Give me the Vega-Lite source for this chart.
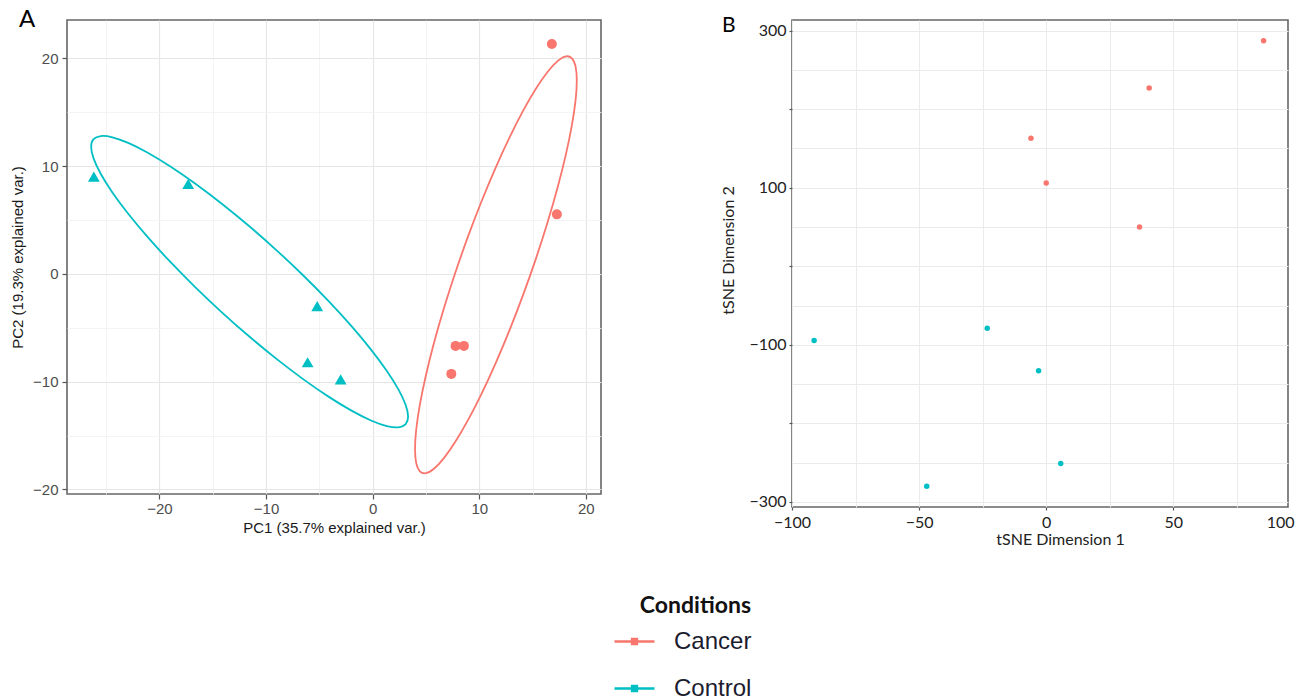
{
  "$schema": "https://vega.github.io/schema/vega-lite/v6.json",
  "background": "white",
  "padding": {"left": 9, "top": 7, "right": 5, "bottom": 5},
  "config": {
    "view": {"stroke": "#666666", "strokeWidth": 1.6},
    "legend": {"padding": 0}
  },
  "datasets": {
    "pca": [
      {"PC1": -26.15, "PC2": 9.03, "Conditions": "Control"},
      {"PC1": -17.3, "PC2": 8.35, "Conditions": "Control"},
      {"PC1": -5.2, "PC2": -3.0, "Conditions": "Control"},
      {"PC1": -6.1, "PC2": -8.2, "Conditions": "Control"},
      {"PC1": -3.0, "PC2": -9.8, "Conditions": "Control"},
      {"PC1": 16.81, "PC2": 21.34, "Conditions": "Cancer"},
      {"PC1": 17.28, "PC2": 5.53, "Conditions": "Cancer"},
      {"PC1": 7.78, "PC2": -6.68, "Conditions": "Cancer"},
      {"PC1": 8.56, "PC2": -6.68, "Conditions": "Cancer"},
      {"PC1": 7.38, "PC2": -9.28, "Conditions": "Cancer"}
    ],
    "ellipse": [
      {"t": 0, "PC1": 3.325, "PC2": -13.244, "Conditions": "Control"},
      {"t": 10, "PC1": 3.099, "PC2": -12.165, "Conditions": "Control"},
      {"t": 20, "PC1": 2.429, "PC2": -10.739, "Conditions": "Control"},
      {"t": 30, "PC1": 1.333, "PC2": -9.007, "Conditions": "Control"},
      {"t": 40, "PC1": -0.153, "PC2": -7.023, "Conditions": "Control"},
      {"t": 50, "PC1": -1.985, "PC2": -4.85, "Conditions": "Control"},
      {"t": 60, "PC1": -4.107, "PC2": -2.55, "Conditions": "Control"},
      {"t": 70, "PC1": -6.456, "PC2": -0.194, "Conditions": "Control"},
      {"t": 80, "PC1": -8.959, "PC2": 2.146, "Conditions": "Control"},
      {"t": 90, "PC1": -11.54, "PC2": 4.398, "Conditions": "Control"},
      {"t": 100, "PC1": -14.121, "PC2": 6.494, "Conditions": "Control"},
      {"t": 110, "PC1": -16.624, "PC2": 8.372, "Conditions": "Control"},
      {"t": 120, "PC1": -18.973, "PC2": 9.974, "Conditions": "Control"},
      {"t": 130, "PC1": -21.095, "PC2": 11.25, "Conditions": "Control"},
      {"t": 140, "PC1": -22.927, "PC2": 12.163, "Conditions": "Control"},
      {"t": 150, "PC1": -24.413, "PC2": 12.685, "Conditions": "Control"},
      {"t": 160, "PC1": -25.509, "PC2": 12.799, "Conditions": "Control"},
      {"t": 170, "PC1": -26.179, "PC2": 12.503, "Conditions": "Control"},
      {"t": 180, "PC1": -26.405, "PC2": 11.804, "Conditions": "Control"},
      {"t": 190, "PC1": -26.179, "PC2": 10.725, "Conditions": "Control"},
      {"t": 200, "PC1": -25.509, "PC2": 9.299, "Conditions": "Control"},
      {"t": 210, "PC1": -24.413, "PC2": 7.567, "Conditions": "Control"},
      {"t": 220, "PC1": -22.927, "PC2": 5.583, "Conditions": "Control"},
      {"t": 230, "PC1": -21.095, "PC2": 3.41, "Conditions": "Control"},
      {"t": 240, "PC1": -18.973, "PC2": 1.11, "Conditions": "Control"},
      {"t": 250, "PC1": -16.624, "PC2": -1.246, "Conditions": "Control"},
      {"t": 260, "PC1": -14.121, "PC2": -3.586, "Conditions": "Control"},
      {"t": 270, "PC1": -11.54, "PC2": -5.838, "Conditions": "Control"},
      {"t": 280, "PC1": -8.959, "PC2": -7.934, "Conditions": "Control"},
      {"t": 290, "PC1": -6.456, "PC2": -9.812, "Conditions": "Control"},
      {"t": 300, "PC1": -4.107, "PC2": -11.414, "Conditions": "Control"},
      {"t": 310, "PC1": -1.985, "PC2": -12.69, "Conditions": "Control"},
      {"t": 320, "PC1": -0.153, "PC2": -13.603, "Conditions": "Control"},
      {"t": 330, "PC1": 1.333, "PC2": -14.125, "Conditions": "Control"},
      {"t": 340, "PC1": 2.429, "PC2": -14.239, "Conditions": "Control"},
      {"t": 350, "PC1": 3.099, "PC2": -13.943, "Conditions": "Control"},
      {"t": 0, "PC1": 19.149, "PC2": 17.945, "Conditions": "Cancer"},
      {"t": 10, "PC1": 19.034, "PC2": 19.261, "Conditions": "Cancer"},
      {"t": 20, "PC1": 18.691, "PC2": 20.018, "Conditions": "Cancer"},
      {"t": 30, "PC1": 18.132, "PC2": 20.192, "Conditions": "Cancer"},
      {"t": 40, "PC1": 17.374, "PC2": 19.778, "Conditions": "Cancer"},
      {"t": 50, "PC1": 16.439, "PC2": 18.789, "Conditions": "Cancer"},
      {"t": 60, "PC1": 15.356, "PC2": 17.256, "Conditions": "Cancer"},
      {"t": 70, "PC1": 14.157, "PC2": 15.223, "Conditions": "Cancer"},
      {"t": 80, "PC1": 12.879, "PC2": 12.752, "Conditions": "Cancer"},
      {"t": 90, "PC1": 11.562, "PC2": 9.922, "Conditions": "Cancer"},
      {"t": 100, "PC1": 10.245, "PC2": 6.816, "Conditions": "Cancer"},
      {"t": 110, "PC1": 8.967, "PC2": 3.527, "Conditions": "Cancer"},
      {"t": 120, "PC1": 7.768, "PC2": 0.156, "Conditions": "Cancer"},
      {"t": 130, "PC1": 6.685, "PC2": -3.193, "Conditions": "Cancer"},
      {"t": 140, "PC1": 5.75, "PC2": -6.418, "Conditions": "Cancer"},
      {"t": 150, "PC1": 4.992, "PC2": -9.424, "Conditions": "Cancer"},
      {"t": 160, "PC1": 4.433, "PC2": -12.118, "Conditions": "Cancer"},
      {"t": 170, "PC1": 4.09, "PC2": -14.417, "Conditions": "Cancer"},
      {"t": 180, "PC1": 3.975, "PC2": -16.253, "Conditions": "Cancer"},
      {"t": 190, "PC1": 4.09, "PC2": -17.569, "Conditions": "Cancer"},
      {"t": 200, "PC1": 4.433, "PC2": -18.326, "Conditions": "Cancer"},
      {"t": 210, "PC1": 4.992, "PC2": -18.5, "Conditions": "Cancer"},
      {"t": 220, "PC1": 5.75, "PC2": -18.086, "Conditions": "Cancer"},
      {"t": 230, "PC1": 6.685, "PC2": -17.097, "Conditions": "Cancer"},
      {"t": 240, "PC1": 7.768, "PC2": -15.564, "Conditions": "Cancer"},
      {"t": 250, "PC1": 8.967, "PC2": -13.531, "Conditions": "Cancer"},
      {"t": 260, "PC1": 10.245, "PC2": -11.06, "Conditions": "Cancer"},
      {"t": 270, "PC1": 11.562, "PC2": -8.23, "Conditions": "Cancer"},
      {"t": 280, "PC1": 12.879, "PC2": -5.124, "Conditions": "Cancer"},
      {"t": 290, "PC1": 14.157, "PC2": -1.835, "Conditions": "Cancer"},
      {"t": 300, "PC1": 15.356, "PC2": 1.536, "Conditions": "Cancer"},
      {"t": 310, "PC1": 16.439, "PC2": 4.885, "Conditions": "Cancer"},
      {"t": 320, "PC1": 17.374, "PC2": 8.11, "Conditions": "Cancer"},
      {"t": 330, "PC1": 18.132, "PC2": 11.116, "Conditions": "Cancer"},
      {"t": 340, "PC1": 18.691, "PC2": 13.81, "Conditions": "Cancer"},
      {"t": 350, "PC1": 19.034, "PC2": 16.109, "Conditions": "Cancer"}
    ],
    "tsne": [
      {"D1": 85.5, "D2": 287, "Conditions": "Cancer"},
      {"D1": 40.5, "D2": 227, "Conditions": "Cancer"},
      {"D1": -6.0, "D2": 163, "Conditions": "Cancer"},
      {"D1": 0.0, "D2": 106, "Conditions": "Cancer"},
      {"D1": 36.7, "D2": 50, "Conditions": "Cancer"},
      {"D1": -91.3, "D2": -94.5, "Conditions": "Control"},
      {"D1": -23.2, "D2": -79, "Conditions": "Control"},
      {"D1": -3.0, "D2": -133, "Conditions": "Control"},
      {"D1": 5.7, "D2": -251, "Conditions": "Control"},
      {"D1": -47.0, "D2": -280, "Conditions": "Control"}
    ]
  },
  "columns": 2,
  "align": "none",
  "spacing": 118,
  "concat": [
    {
      "width": 534,
      "height": 474,
      "title": {"text": "A", "anchor": "start", "frame": "group", "dx": -48, "offset": -12, "font": "Lato", "fontSize": 24, "fontWeight": "normal", "color": "#000000"},
      "layer": [
        {
          "data": {"name": "ellipse"},
          "mark": {"type": "line", "interpolate": "cardinal-closed", "strokeWidth": 1.8},
          "encoding": {
            "x": {"field": "PC1", "type": "quantitative", "scale": {"domain": [-28.67, 21.42], "nice": false, "zero": false},
              "axis": {"title": "PC1 (35.7% explained var.)", "values": [-25, -20, -15, -10, -5, 0, 5, 10, 15, 20],
                "labelExpr": "datum.value % 10 === 0 ? datum.label : ''", "domain": false, "grid": true,
                "gridColor": {"condition": {"test": "datum.value % 10 === 0", "value": "#E6E6E6"}, "value": "#F1F1F1"},
                "gridWidth": {"condition": {"test": "datum.value % 10 === 0", "value": 1.2}, "value": 0.8},
                "tickSize": 5, "tickColor": "#555555", "tickWidth": 1.2,
                "tickOpacity": {"condition": {"test": "datum.value % 10 === 0", "value": 1}, "value": 0},
                "labelFont": "Liberation Sans", "labelFontSize": 15, "labelColor": "#4D4D4D", "labelPadding": 2, "labelFlush": false, "labelOverlap": false,
                "titleFont": "Liberation Sans", "titleFontSize": 15, "titleFontWeight": "normal", "titleColor": "#1a1a1a", "titlePadding": 4}},
            "y": {"field": "PC2", "type": "quantitative", "scale": {"domain": [-20.43, 23.57], "nice": false, "zero": false},
              "axis": {"title": "PC2 (19.3% explained var.)", "values": [-20, -15, -10, -5, 0, 5, 10, 15, 20],
                "labelExpr": "datum.value % 10 === 0 ? datum.label : ''", "domain": false, "grid": true,
                "gridColor": {"condition": {"test": "datum.value % 10 === 0", "value": "#E6E6E6"}, "value": "#F1F1F1"},
                "gridWidth": {"condition": {"test": "datum.value % 10 === 0", "value": 1.2}, "value": 0.8},
                "tickSize": 5, "tickColor": "#555555", "tickWidth": 1.2,
                "tickOpacity": {"condition": {"test": "datum.value % 10 === 0", "value": 1}, "value": 0},
                "labelFont": "Liberation Sans", "labelFontSize": 15, "labelColor": "#4D4D4D", "labelPadding": 4, "labelFlush": false, "labelOverlap": false,
                "titleFont": "Liberation Sans", "titleFontSize": 15, "titleFontWeight": "normal", "titleColor": "#1a1a1a", "titlePadding": 7}},
            "order": {"field": "t", "type": "quantitative"},
            "color": {"field": "Conditions", "type": "nominal", "scale": {"domain": ["Cancer", "Control"], "range": ["#F8766D", "#00BFC4"]},
              "legend": {"orient": "none", "legendX": 546, "legendY": 575, "title": "Conditions",
                "titleFont": "Lato", "titleFontSize": 23, "titleFontWeight": "bold", "titleColor": "#111111", "titlePadding": 2, "titleAnchor": "end",
                "labelFont": "Liberation Sans", "labelFontSize": 24, "labelColor": "#1c1c30", "labelOffset": 18,
                "symbolType": "M-1,0H1M-0.12,-0.12H0.12V0.12H-0.12Z", "symbolSize": 1600, "symbolStrokeWidth": 2.5, "symbolFillColor": "white", "rowPadding": 13}}
          }
        },
        {
          "data": {"name": "pca"},
          "transform": [{"filter": "datum.Conditions === 'Cancer'"}],
          "mark": {"type": "point", "shape": "circle", "filled": true, "opacity": 1, "size": 100},
          "encoding": {
            "x": {"field": "PC1", "type": "quantitative"},
            "y": {"field": "PC2", "type": "quantitative"},
            "color": {"field": "Conditions", "type": "nominal", "legend": null}
          }
        },
        {
          "data": {"name": "pca"},
          "transform": [{"filter": "datum.Conditions === 'Control'"}],
          "mark": {"type": "point", "shape": "triangle-up", "filled": true, "opacity": 1, "size": 140},
          "encoding": {
            "x": {"field": "PC1", "type": "quantitative"},
            "y": {"field": "PC2", "type": "quantitative"},
            "color": {"field": "Conditions", "type": "nominal", "legend": null}
          }
        }
      ]
    },
    {
      "width": 496,
      "height": 487,
      "title": {"text": "B", "anchor": "start", "frame": "group", "dx": -70, "offset": -16, "font": "Lato", "fontSize": 21, "fontWeight": "normal", "color": "#000000"},
      "data": {"name": "tsne"},
      "mark": {"type": "point", "shape": "circle", "filled": true, "opacity": 1, "size": 30},
      "encoding": {
        "x": {"field": "D1", "type": "quantitative", "scale": {"domain": [-100, 95.1], "nice": false, "zero": false},
          "axis": {"title": "tSNE Dimension 1", "values": [-100, -75, -50, -25, 0, 25, 50, 75, 92],
            "labelExpr": "datum.value === 92 ? '100' : (datum.value % 50 === 0 ? datum.label : '')", "domain": false, "grid": true,
            "gridColor": "#EBEBEB", "gridWidth": 1,
            "gridOpacity": {"condition": {"test": "datum.value === 92", "value": 0}, "value": 1},
            "tickSize": 3, "tickColor": "#555555", "tickWidth": 1.2,
            "tickOpacity": {"condition": {"test": "datum.value % 50 === 0", "value": 1}, "value": 0},
            "labelFont": "Lato", "labelFontSize": 16, "labelColor": "#222222", "labelPadding": 4, "labelFlush": false, "labelOverlap": false,
            "titleFont": "Lato", "titleFontSize": 16, "titleFontWeight": "normal", "titleColor": "#222222", "titlePadding": 1, "titleX": 268}},
        "y": {"field": "D2", "type": "quantitative", "scale": {"domain": [-306.4, 313.4], "nice": false, "zero": false},
          "axis": {"title": "tSNE Dimension 2", "values": [-300, -250, -200, -150, -100, -50, 0, 50, 100, 150, 200, 250, 300],
            "labelExpr": "abs(datum.value) % 200 === 100 ? datum.label : ''", "domain": false, "grid": true,
            "gridColor": "#EBEBEB", "gridWidth": 1,
            "tickSize": 3, "tickColor": "#555555", "tickWidth": 1.2,
            "tickOpacity": {"condition": {"test": "datum.value % 100 === 0", "value": 1}, "value": 0},
            "labelFont": "Lato", "labelFontSize": 16, "labelColor": "#222222", "labelPadding": 3, "labelFlush": false, "labelOverlap": false,
            "titleFont": "Lato", "titleFontSize": 16, "titleFontWeight": "normal", "titleColor": "#222222", "titlePadding": 12, "titleY": 230}},
        "color": {"field": "Conditions", "type": "nominal", "legend": null}
      }
    }
  ]
}
